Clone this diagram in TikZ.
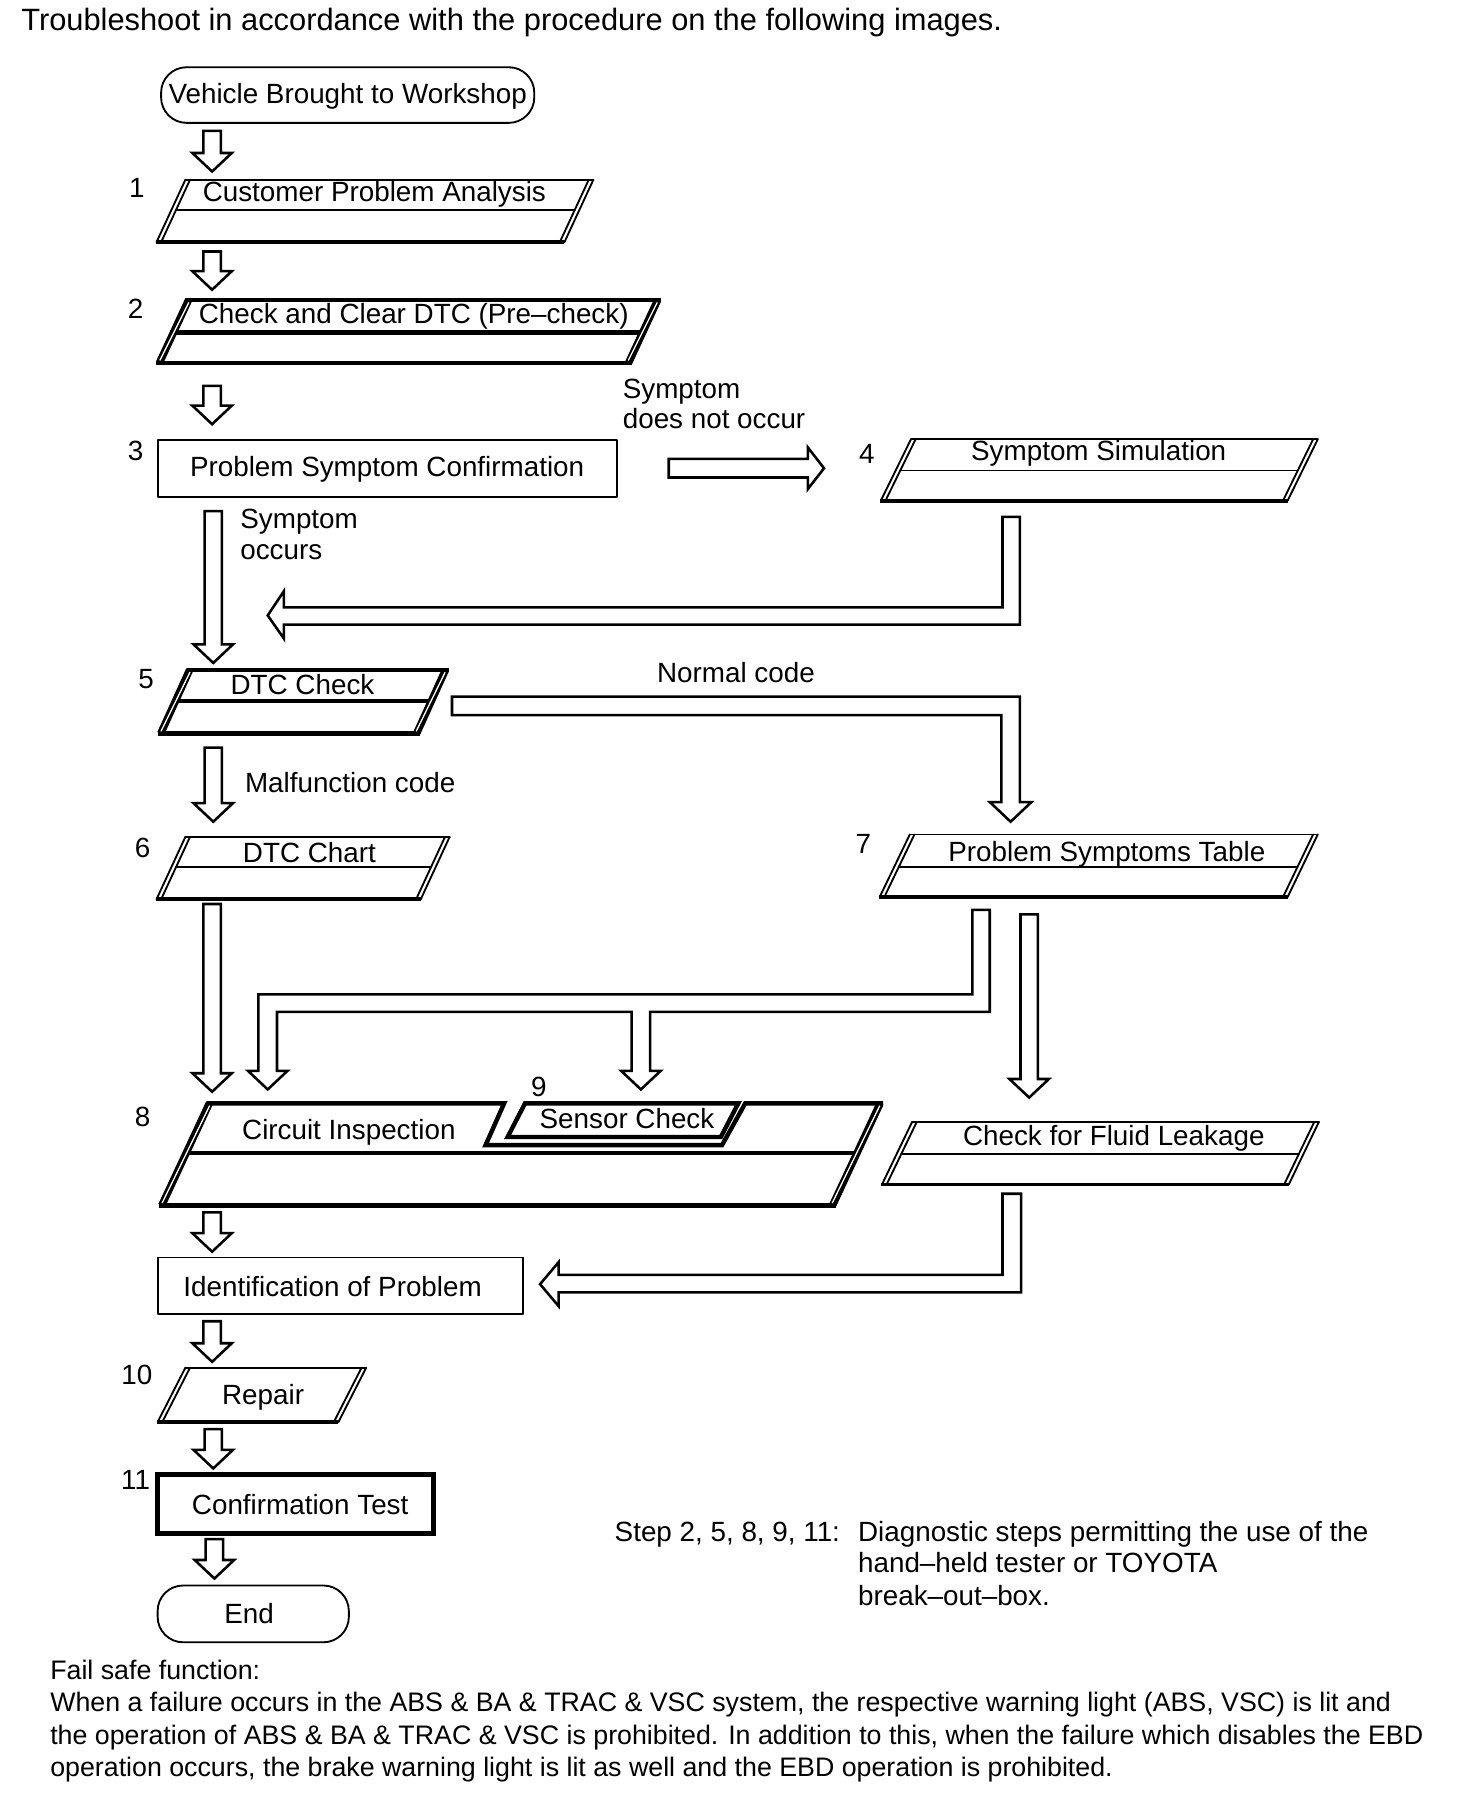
\documentclass[tikz,border=0pt]{standalone}
\usepackage{fontspec}
\setmainfont{Liberation Sans}
\tikzset{
  thinl/.style={line width=0.8pt, line cap=round, line join=round},
  thickl/.style={line width=1.9pt, line join=miter},
  arr/.style={line width=1.1pt, line join=miter, fill=white},
  txt/.style={anchor=base, inner sep=0pt, font=\fontsize{12}{14}\selectfont},
  txtw/.style={anchor=base west, inner sep=0pt, font=\fontsize{12}{14}\selectfont},
  failtxt/.style={anchor=base west, inner sep=0pt, font=\fontsize{11.55}{14}\selectfont},
}
% down block arrow: x, ytop, ytip
\newcommand\DnArrow[3]{%
  \draw[arr] (#1-7.5,#2) -- (#1-7.5,#3-16) -- (#1-17,#3-16) -- (#1,#3) -- (#1+17,#3-16) -- (#1+7.5,#3-16) -- (#1+7.5,#2) -- cycle;}
% thin parallelogram: xl, xr, yt, yb, slant
\newcommand\PBox[5]{%
  \draw[thinl] (#1,#3) -- (#2,#3);
  \draw[line width=1.7pt] (#1-#5-0.6,#4) -- (#2-#5,#4);
  \draw[thinl] (#1,#3) -- (#1-#5,#4);
  \draw[thinl] (#1+4,#3) -- (#1-#5+4,#4);
  \draw[thinl] (#2,#3) -- (#2-#5,#4);
  \draw[thinl] (#2-4,#3) -- (#2-#5-4,#4);}
% mid line of thin parallelogram: xl, xr, yt, yb, slant, ym
\newcommand\PMid[6]{%
  \draw[thinl] ({#1+4-#5*(#6-#3)/(#4-#3)},#6) -- ({#2-4-#5*(#6-#3)/(#4-#3)},#6);}
% thick side: x top, x bottom, yt, yb, direction (+1 left side, -1 right side)
\newcommand\TSide[5]{%
  \draw[line width=3.2pt] (#1+#5*2.6,#3) -- (#2+#5*2.6,#4);
  \draw[white, line width=0.55pt] (#1+#5*2.9,#3+2) -- (#2+#5*2.9,#4-2);}
% thick parallelogram: xl, xr, yt, yb, slant, ym
\newcommand\TBox[6]{%
  \draw[thickl] (#1-#5,#4) -- (#2-#5,#4);
  \draw[thickl] (#1,#3) -- (#2,#3);
  \draw[thickl] ({#1-#5*(#6-#3)/(#4-#3)},#6) -- ({#2-#5*(#6-#3)/(#4-#3)},#6);
  \TSide{#1}{#1-#5}{#3}{#4}{1}
  \TSide{#2}{#2-#5}{#3}{#4}{-1}}
\begin{document}
\begin{tikzpicture}[x=0.5pt, y=-0.5pt]
\useasboundingbox (0,0) rectangle (1270,1560);

\node[anchor=base west, inner sep=0pt, font=\fontsize{13.3}{15}\selectfont] (title) at (18,26) {Troubleshoot in accordance with the procedure on the following images.};

% start
\draw[thinl, rounded corners=11pt] (139,58) rectangle (461,106);
\node[txt] (start) at (300,89) {Vehicle Brought to Workshop};
\DnArrow{183}{113}{148}

% step 1
\node[txt] (n1) at (118,170) {1};
\PBox{160}{512}{155}{209}{25}
\PMid{160}{512}{155}{209}{25}{181}
\node[txt] (t1) at (323,174) {Customer Problem Analysis};
\DnArrow{183}{217}{250}

% step 2
\node[txt] (n2) at (117,275) {2};
\TBox{160}{570}{259}{313}{25}{287}
\node[txt] (t2) at (357,279) {Check and Clear DTC (Pre–check)};
\DnArrow{183}{333}{366}

% step 3
\node[txt] (n3) at (117,397) {3};
\draw[thinl] (136,380) rectangle (532,429);
\node[txt] (t3) at (334,411) {Problem Symptom Confirmation};
\node[txtw] (sdn1) at (537,344) {Symptom};
\node[txtw] (sdn2) at (537,370) {does not occur};
\draw[arr] (577,396) -- (697,396) -- (697,386) -- (711,404) -- (697,422) -- (697,412) -- (577,412) -- cycle;

% step 4
\node[txt] (n4) at (748,400) {4};
\PBox{786}{1137}{379}{432}{26}
\PMid{786}{1137}{379}{432}{26}{406}
\node[txt] (t4) at (948,397) {Symptom Simulation};
\draw[arr] (865,446) -- (880,446) -- (880,539) -- (245,539) -- (245,551) -- (231,531) -- (245,510) -- (245,524) -- (865,524) -- cycle;

% symptom occurs
\DnArrow{184}{441}{572}
\node[txtw] (so1) at (207,456) {Symptom};
\node[txtw] (so2) at (207,483) {occurs};

% step 5
\node[txt] (n5) at (126,594) {5};
\TBox{161}{387}{578}{633}{25}{605}
\node[txt] (t5) at (261,599) {DTC Check};
\node[txt] (nc) at (635,589) {Normal code};
\draw[arr] (390,601) -- (880,601) -- (880,692) -- (890,692) -- (872,709) -- (854,692) -- (864,692) -- (864,617) -- (390,617) -- cycle;
\DnArrow{184}{645}{709}
\node[txtw] (mc) at (211,684) {Malfunction code};

% step 6
\node[txt] (n6) at (123,740) {6};
\PBox{160}{388}{722}{776}{25}
\PMid{160}{388}{722}{776}{25}{748}
\node[txt] (t6) at (267,744) {DTC Chart};

% step 7
\node[txt] (n7) at (745,736) {7};
\PBox{785}{1137}{720}{774}{26}
\PMid{785}{1137}{720}{774}{26}{748}
\node[txt] (t7) at (955,743) {Problem Symptoms Table};

% arrows toward 8/9/fluid
\DnArrow{183}{780}{942}
\draw[arr] (839,785) -- (854,785) -- (854,873) -- (561,873) -- (561,924) -- (570,924) -- (553,940) -- (536,924) -- (545,924) -- (545,873) -- (239,873) -- (239,924) -- (248,924) -- (231,940) -- (214,924) -- (223,924) -- (223,858) -- (839,858) -- cycle;
\DnArrow{888}{789}{947}

% step 8 / 9
\node[txt] (n8) at (123,972) {8};
\node[txt] (n9) at (465,946) {9};
\draw[thickl] (178,952) -- (435,952) -- (419,988) -- (623,988) -- (643,952) -- (762,952);
\draw[thickl] (137,1040) -- (721,1040);
\draw[thickl] ({178+2-41*(995-952)/88},995) -- ({762-2-41*(995-952)/88},995);
\TSide{178}{137}{952}{1040}{1}
\TSide{762}{721}{952}{1040}{-1}
\draw[thickl] (453,952) -- (637,952) -- (622,981) -- (438,981) -- cycle;
\node[txt] (t9) at (541,974) {Sensor Check};
\node[txt] (t8) at (301,983) {Circuit Inspection};

% fluid leakage
\PBox{787}{1138}{968}{1022}{26}
\PMid{787}{1138}{968}{1022}{26}{996}
\node[txt] (tfl) at (961,988) {Check for Fluid Leakage};
\draw[arr] (865,1030) -- (881,1030) -- (881,1115) -- (482,1115) -- (482,1127) -- (466,1108) -- (482,1089) -- (482,1100) -- (865,1100) -- cycle;

% identification
\DnArrow{183}{1046}{1080}
\draw[thinl] (136,1085) rectangle (451,1134);
\node[txt] (tid) at (287,1119) {Identification of Problem};
\DnArrow{183}{1140}{1175}

% step 10
\node[txt] (n10) at (118,1195) {10};
\PBox{160}{316}{1180}{1227}{24}
\node[txt] (t10) at (227,1212) {Repair};
\DnArrow{184}{1233}{1267}

% step 11
\node[txt] (n11) at (117,1285) {11};
\draw[line width=2pt] (136,1272) rectangle (374,1323);
\node[txt] (t11) at (259,1307) {Confirmation Test};
\DnArrow{185}{1328}{1362}

% end
\draw[thinl, rounded corners=11pt] (136,1368) rectangle (301,1417);
\node[txt] (tend) at (215,1401) {End};

% notes
\node[txtw] (s1) at (530,1330) {Step 2, 5, 8, 9, 11:};
\node[txtw] (s2) at (740,1330) {Diagnostic steps permitting the use of the};
\node[txtw] (s3) at (740,1357) {hand–held tester or TOYOTA};
\node[txtw] (s4) at (740,1385) {break–out–box.};

\node[failtxt] (f1) at (43,1449) {Fail safe function:};
\node[failtxt] (f2) at (43,1477) {When a failure occurs in the ABS \& BA \& TRAC \& VSC system, the respective warning light (ABS, VSC) is lit and};
\node[failtxt] (f3) at (43,1505) {the operation of ABS \& BA \& TRAC \& VSC is prohibited. In addition to this, when the failure which disables the EBD};
\node[failtxt] (f4) at (43,1533) {operation occurs, the brake warning light is lit as well and the EBD operation is prohibited.};
\end{tikzpicture}
\end{document}
